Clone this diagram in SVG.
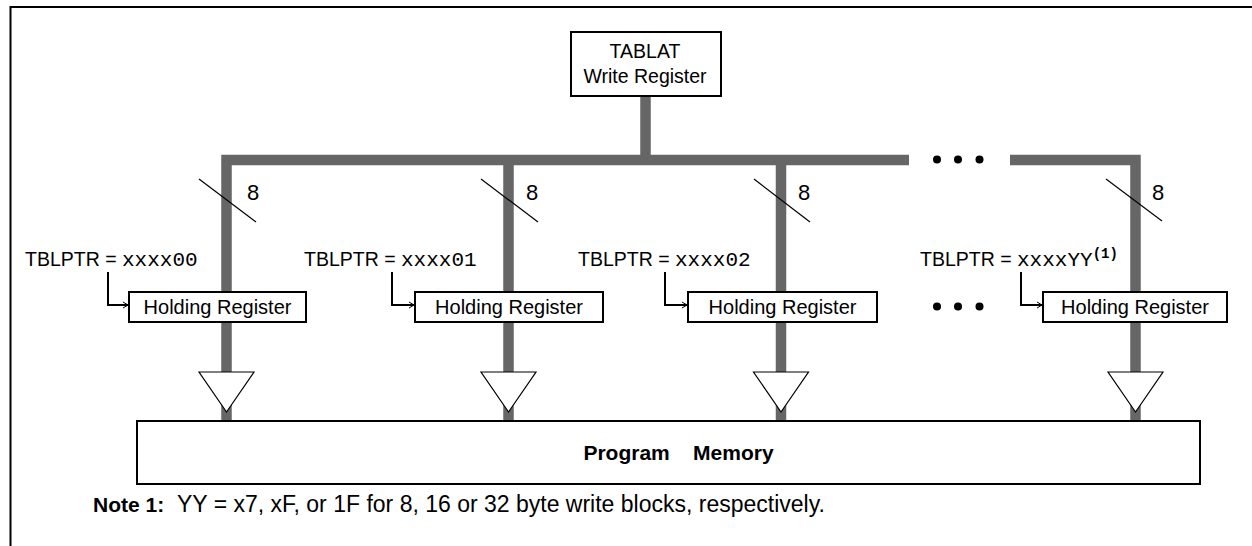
<svg xmlns="http://www.w3.org/2000/svg" width="1252" height="546" viewBox="0 0 1252 546">
<style>
.sans{font-family:"Liberation Sans",Arial,sans-serif;font-size:19.5px;fill:#000}
.hr{font-size:20px}
.num{font-size:22px}
.bold{font-weight:bold}
.mono{font-family:"Liberation Mono","Courier New",monospace;font-size:21px}
.sup{font-family:"Liberation Mono","Courier New",monospace;font-size:14px;font-weight:bold}
.box{fill:#fff;stroke:#000;stroke-width:2}
.bus{fill:none;stroke:#666;stroke-width:10.5;stroke-linejoin:miter;stroke-linecap:butt}
.slash{stroke:#000;stroke-width:1.2}
.ptr{fill:none;stroke:#000;stroke-width:2;marker-end:url(#ah)}
.tri{fill:#fff;stroke:#000;stroke-width:1.2}
.dot{fill:#000}
</style>
<defs>
<marker id="ah" markerWidth="8" markerHeight="8" refX="6" refY="4" orient="auto" markerUnits="userSpaceOnUse">
<path d="M1,1 L6,4 L1,7" fill="none" stroke="#000" stroke-width="1"/>
</marker>
</defs>
<rect width="1252" height="546" fill="#fff"/>
<path d="M10.5,546 V7 H1252" fill="none" stroke="#000" stroke-width="2"/>

<g id="connectors">
<path class="bus" d="M645.5,96 V160"/>
<path class="bus" d="M226.5,421 V160 H909"/>
<path class="bus" d="M1010,160 H1135.5 V421"/>
<path class="bus" d="M508.5,160 V421"/>
<path class="bus" d="M781,160 V421"/>
<line class="slash" x1="199" y1="179" x2="256" y2="222"/>
<line class="slash" x1="481" y1="179" x2="538" y2="222"/>
<line class="slash" x1="754" y1="179" x2="810" y2="222"/>
<line class="slash" x1="1106" y1="179" x2="1162" y2="221"/>
<text class="sans num" x="247" y="200">8</text>
<text class="sans num" x="526" y="200">8</text>
<text class="sans num" x="798" y="200">8</text>
<text class="sans num" x="1152" y="200">8</text>
<path class="ptr" d="M108,272 V305 H128"/>
<path class="ptr" d="M392,272 V305 H414"/>
<path class="ptr" d="M665,272 V305 H687"/>
<path class="ptr" d="M1021,272 V305 H1042"/>
<circle class="dot" cx="937" cy="159.5" r="4"/>
<circle class="dot" cx="958" cy="159.5" r="4"/>
<circle class="dot" cx="979.5" cy="159.5" r="4"/>
<circle class="dot" cx="937" cy="306.5" r="4"/>
<circle class="dot" cx="958" cy="306.5" r="4"/>
<circle class="dot" cx="979.5" cy="306.5" r="4"/>
</g>

<g id="tablat">
<rect class="box" x="571" y="32" width="150" height="64"/>
<text class="sans" x="645" y="58" text-anchor="middle">TABLAT</text>
<text class="sans" x="645" y="83" text-anchor="middle">Write Register</text>
</g>

<g id="label0"><text class="sans" x="25" y="266">TBLPTR = <tspan class="mono">xxxx00</tspan></text></g>
<g id="label1"><text class="sans" x="304" y="266">TBLPTR = <tspan class="mono">xxxx01</tspan></text></g>
<g id="label2"><text class="sans" x="578" y="266">TBLPTR = <tspan class="mono">xxxx02</tspan></text></g>
<g id="labelN"><text class="sans" x="920" y="266">TBLPTR = <tspan class="mono">xxxxYY</tspan><tspan class="sup" dy="-8">(1)</tspan></text></g>

<g id="hold0"><rect class="box" x="129" y="292" width="177" height="30"/><text class="sans hr" x="217.5" y="314" text-anchor="middle">Holding Register</text></g>
<g id="hold1"><rect class="box" x="415" y="292" width="188" height="30"/><text class="sans hr" x="509" y="314" text-anchor="middle">Holding Register</text></g>
<g id="hold2"><rect class="box" x="688" y="292" width="189" height="30"/><text class="sans hr" x="782.5" y="314" text-anchor="middle">Holding Register</text></g>
<g id="holdN"><rect class="box" x="1043" y="292" width="184" height="30"/><text class="sans hr" x="1135" y="314" text-anchor="middle">Holding Register</text></g>

<g id="buf0"><polygon class="tri" points="199,372 254,372 226.5,412"/></g>
<g id="buf1"><polygon class="tri" points="481,372 536,372 508.5,412"/></g>
<g id="buf2"><polygon class="tri" points="753.5,372 808.5,372 781,412"/></g>
<g id="bufN"><polygon class="tri" points="1108,372 1163,372 1135.5,412"/></g>

<g id="memory">
<rect class="box" x="137" y="421" width="1063" height="63"/>
<text class="sans bold" x="678.5" y="460" text-anchor="middle" xml:space="preserve" style="white-space:pre;font-size:21px">Program    Memory</text>
</g>

<g id="note">
<text class="sans bold" x="93" y="512" style="font-size:21px">Note 1:</text>
<text class="sans" x="177" y="512" style="font-size:23px">YY = x7, xF, or 1F for 8, 16 or 32 byte write blocks, respectively.</text>
</g>
</svg>
